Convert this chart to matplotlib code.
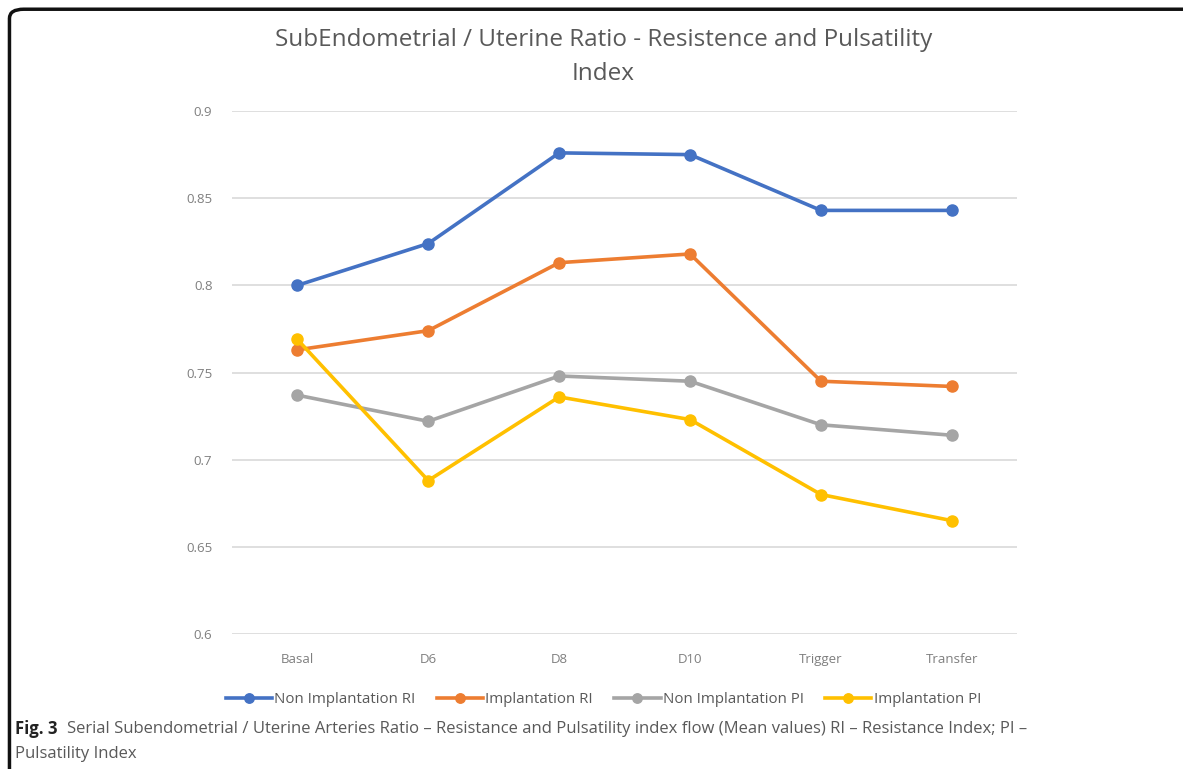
import matplotlib
matplotlib.use("Agg")
import matplotlib.pyplot as plt
from matplotlib.patches import FancyBboxPatch

plt.rcParams["font.family"] = ["Open Sans", "DejaVu Sans"]

# ─── Datos ─────────────────────────────────────────────────────────────────
etapas = ["Basal", "D6", "D8", "D10", "Trigger", "Transfer"]
non_impl_ri = [0.800, 0.824, 0.876, 0.875, 0.843, 0.843]
impl_ri = [0.763, 0.774, 0.813, 0.818, 0.745, 0.742]
non_impl_pi = [0.737, 0.722, 0.748, 0.745, 0.720, 0.714]
impl_pi = [0.769, 0.688, 0.736, 0.723, 0.680, 0.665]

series = [
    ("Non Implantation RI", non_impl_ri, "#4472c4"),
    ("Implantation RI", impl_ri, "#ed7d31"),
    ("Non Implantation PI", non_impl_pi, "#a5a5a5"),
    ("Implantation PI", impl_pi, "#ffc000"),
]

GRIS_TEXTO = "#595959"

fig = plt.figure(figsize=(11.83, 7.69), dpi=100)
ax = fig.add_axes([0.196, 0.1756, 0.664, 0.680])

x = list(range(len(etapas)))
for nombre, valores, color in series:
    ax.plot(x, valores, color=color, lw=2.6, marker="o", ms=8,
            label=nombre, zorder=3)

ax.set_xlim(-0.5, len(etapas) - 0.5)
ax.set_ylim(0.6, 0.9)
ax.set_yticks([0.6, 0.65, 0.7, 0.75, 0.8, 0.85, 0.9])
ax.set_yticklabels(["0.6", "0.65", "0.7", "0.75", "0.8", "0.85", "0.9"])
ax.set_xticks(x)
ax.set_xticklabels(etapas)
ax.grid(axis="y", color="#d9d9d9", lw=1.2)
ax.set_axisbelow(True)
for lado in ax.spines.values():
    lado.set_visible(False)
ax.tick_params(length=0, labelsize=9.5, colors="#7f7f7f", pad=14)

fig.text(0.51, 0.926,
         "SubEndometrial / Uterine Ratio - Resistence and Pulsatility\nIndex",
         ha="center", va="center", fontsize=17.5, color=GRIS_TEXTO,
         linespacing=1.6)

fig.legend(loc="center", bbox_to_anchor=(0.51, 0.0905), ncol=4, frameon=False,
           fontsize=10.8, labelcolor=GRIS_TEXTO, handlelength=3.1,
           handletextpad=0.15, columnspacing=1.4, markerscale=0.85)

# Pie de figura
fig.text(0.013, 0.052, "Fig. 3", fontsize=12, fontweight="bold",
         color="#222222", va="center")
fig.text(0.057, 0.052,
         "Serial Subendometrial / Uterine Arteries Ratio \u2013 Resistance and "
         "Pulsatility index flow (Mean values) RI \u2013 Resistance Index; PI \u2013",
         fontsize=12, color=GRIS_TEXTO, va="center")
fig.text(0.013, 0.019, "Pulsatility Index", fontsize=12, color=GRIS_TEXTO,
         va="center")

# Marco redondeado
marco = FancyBboxPatch((0.008, -0.1), 1.2, 1.088,
                       boxstyle="round,pad=0,rounding_size=0.012",
                       transform=fig.transFigure, fill=False,
                       ec="#111111", lw=2.5, clip_on=False)
fig.patches.append(marco)

fig.savefig("out.png", dpi=100)
plt.close(fig)
